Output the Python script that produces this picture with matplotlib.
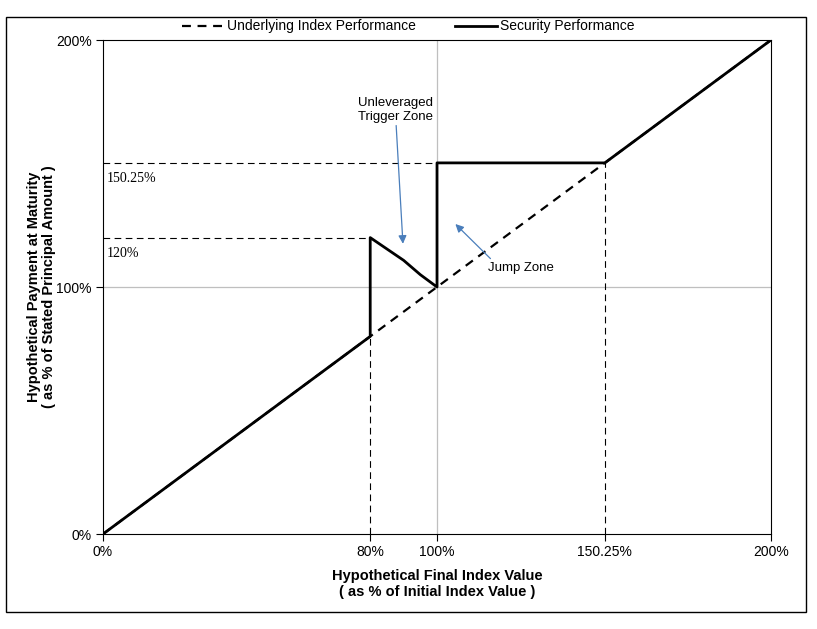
import matplotlib
matplotlib.use("Agg")
import matplotlib.pyplot as plt
from matplotlib.patches import Rectangle
from matplotlib.lines import Line2D

# index performance (dashed diagonal)
index_x = [0, 200]
index_y = [0, 200]

# security performance
sec_x = [0, 80, 80, 90, 95, 100, 100, 150.25, 200]
sec_y = [0, 80, 120, 110.8, 105, 100, 150.25, 150.25, 200]

x_ticks = [0, 80, 100, 150.25, 200]
x_tick_labels = ["0%", "80%", "100%", "150.25%", "200%"]
y_ticks = [0, 100, 200]
y_tick_labels = ["0%", "100%", "200%"]

trigger_level = 120
cap_level = 150.25
trigger_x = 80
cap_x = 150.25

narrow = ["Liberation Sans Narrow", "Liberation Sans", "DejaVu Sans"]
plt.rcParams["font.family"] = ["Liberation Sans", "DejaVu Sans"]

fig = plt.figure(figsize=(8.17, 6.29), dpi=100)
ax = fig.add_axes([0.1261, 0.151, 0.8176, 0.7854])

# outer frame
fig.patches.append(Rectangle((0.007, 0.027), 0.979, 0.946, transform=fig.transFigure,
                             fill=False, edgecolor="black", linewidth=1))

# light grid at 100%
ax.axvline(100, color="#bfbfbf", linewidth=0.9, zorder=1)
ax.axhline(100, color="#bfbfbf", linewidth=0.9, zorder=1)

# dashed reference lines
ax.plot([0, 100], [cap_level, cap_level], color="black", linestyle=(0, (6, 4)), linewidth=0.8)
ax.plot([0, trigger_x], [trigger_level, trigger_level], color="black", linestyle=(0, (6, 4)), linewidth=0.8)
ax.plot([trigger_x, trigger_x], [0, trigger_x], color="black", linestyle=(0, (6, 4)), linewidth=0.8)
ax.plot([cap_x, cap_x], [0, cap_x], color="black", linestyle=(0, (6, 4)), linewidth=0.8)

ax.plot(index_x, index_y, color="black", linestyle=(0, (4, 3)), linewidth=1.6, zorder=3)
ax.plot(sec_x, sec_y, color="black", linewidth=2, zorder=4)

ax.text(1, cap_level - 3.5, "150.25%", family="Liberation Serif", fontsize=10, va="top")
ax.text(1, trigger_level - 4, "120%", family="Liberation Serif", fontsize=10, va="top")

arrow_color = "#4a7ebb"
ax.annotate("Unleveraged\nTrigger Zone", xy=(89.8, 117.5), xytext=(87.5, 166.5),
            ha="center", va="bottom", fontsize=9.5,
            arrowprops=dict(arrowstyle="-|>", color=arrow_color, lw=0.9, mutation_scale=12,
                            shrinkA=0, shrinkB=0))
ax.annotate("", xy=(105.5, 125.5), xytext=(116, 111.5),
            arrowprops=dict(arrowstyle="-|>", color=arrow_color, lw=0.9, mutation_scale=12,
                            shrinkA=0, shrinkB=0))
ax.text(125, 107.5, "Jump Zone", ha="center", va="center", fontsize=9.5)

ax.set_xlim(0, 200)
ax.set_ylim(0, 200)
ax.set_xticks(x_ticks)
ax.set_xticklabels(x_tick_labels, family=narrow, fontsize=10)
ax.set_yticks(y_ticks)
ax.set_yticklabels(y_tick_labels, family=narrow, fontsize=10)
ax.tick_params(direction="out", length=5, width=0.8, pad=3)
for s in ax.spines.values():
    s.set_linewidth(0.8)

ax.set_xlabel("Hypothetical Final Index Value\n( as % of Initial Index Value )",
              fontsize=10.5, fontweight="bold", labelpad=7, linespacing=1.15)
ax.set_ylabel("Hypothetical Payment at Maturity\n( as % of Stated Principal Amount )",
              fontsize=10.5, fontweight="bold", labelpad=0, linespacing=1.15)

handles = [Line2D([], [], color="black", linestyle=(0, (4, 3)), linewidth=1.6),
           Line2D([], [], color="black", linewidth=2)]
fig.legend(handles, ["Underlying Index Performance", "Security Performance"],
           loc="center", bbox_to_anchor=(0.5, 0.958), ncol=2, frameon=False,
           fontsize=10, handlelength=3, handletextpad=0.25, columnspacing=2.8)

fig.savefig("out.png", dpi=100)
